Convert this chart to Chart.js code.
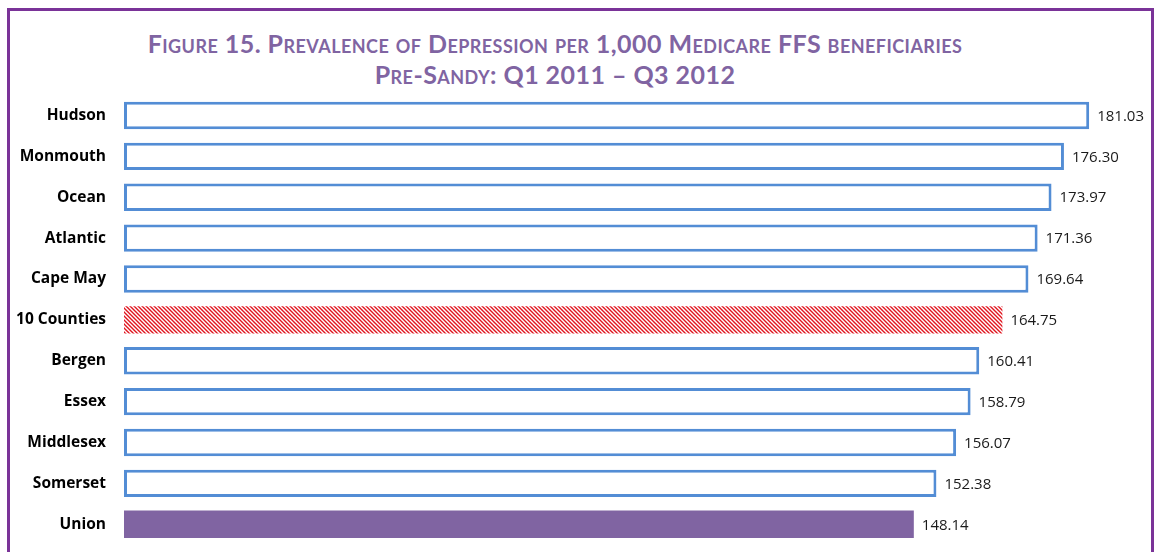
<!DOCTYPE html>
<html>
<head>
<meta charset="utf-8">
<script src="https://cdn.jsdelivr.net/npm/chart.js@4.4.1/dist/chart.umd.min.js"></script>
<style>
  html, body { margin: 0; padding: 0; background: #ffffff; }
  body { width: 1154px; height: 552px; position: relative; overflow: hidden; }
  #frame { position: absolute; left: 7px; top: 8px; width: 1141px; height: 600px;
           border: 3px solid #7a3398; box-sizing: content-box; }
  #title { position: absolute; left: 0; width: 1110px; top: 28px; text-align: center;
           font-family: Lato, "Open Sans", sans-serif; font-weight: 700; font-size: 25px;
           letter-spacing: 0.45px; line-height: 31px; color: #8064a2; font-variant: small-caps; }
  #wrap { position: absolute; left: 0; top: 0; width: 1154px; height: 572px; }
  canvas { display: block; }
</style>
</head>
<body>
<div id="frame"></div>
<div id="title">Figure 15. Prevalence of Depression per 1,000 Medicare FFS beneficiaries<br>Pre-Sandy: Q1 2011 – Q3 2012</div>
<div id="wrap"><canvas id="c" width="1154" height="572" style="width:1154px;height:572px"></canvas></div>
<script>
const categories = ["Hudson", "Monmouth", "Ocean", "Atlantic", "Cape May", "10 Counties", "Bergen", "Essex", "Middlesex", "Somerset", "Union"];
const values = [181.03, 176.30, 173.97, 171.36, 169.64, 164.75, 160.41, 158.79, 156.07, 152.38, 148.14];
const highlightAll = "10 Counties";
const highlightHome = "Union";

function makeHatch() {
  const s = 4;
  const p = document.createElement('canvas');
  p.width = s; p.height = s;
  const g = p.getContext('2d');
  g.fillStyle = '#ffffff';
  g.fillRect(0, 0, s, s);
  g.strokeStyle = '#e0141e';
  g.lineWidth = 1.4;
  g.beginPath();
  g.moveTo(0, 0); g.lineTo(s, s);
  g.moveTo(-s, 0); g.lineTo(s, 2 * s);
  g.moveTo(0, -s); g.lineTo(2 * s, s);
  g.stroke();
  return document.getElementById('c').getContext('2d').createPattern(p, 'repeat');
}
const hatch = makeHatch();

const fills = categories.map(c => c === highlightAll ? hatch : (c === highlightHome ? '#8064a2' : '#ffffff'));
const borders = categories.map(c => (c === highlightAll || c === highlightHome) ? 'rgba(0,0,0,0)' : '#538dd5');
const bws = categories.map(c => (c === highlightAll || c === highlightHome) ? 0 : 3);

const valueLabels = {
  id: 'valueLabels',
  afterDatasetsDraw(chart) {
    const ctx = chart.ctx;
    const meta = chart.getDatasetMeta(0);
    ctx.save();
    ctx.font = '15px "Open Sans", sans-serif';
    ctx.fillStyle = '#1a1a1a';
    ctx.textBaseline = 'middle';
    ctx.textAlign = 'left';
    meta.data.forEach((bar, i) => {
      ctx.fillText(values[i].toFixed(2), bar.x + 8, bar.y + 1);
    });
    ctx.restore();
  }
};

new Chart(document.getElementById('c'), {
  type: 'bar',
  data: {
    labels: categories,
    datasets: [{
      data: values,
      backgroundColor: fills,
      borderColor: borders,
      borderWidth: bws,
      borderSkipped: false,
      categoryPercentage: 1,
      barPercentage: 0.67
    }]
  },
  options: {
    indexAxis: 'y',
    responsive: false,
    animation: false,
    devicePixelRatio: 1,
    layout: { padding: { left: 0, right: 17, top: 95, bottom: 8 } },
    plugins: { legend: { display: false }, tooltip: { enabled: false }, title: { display: false } },
    scales: {
      x: { display: false, min: 0, max: 190 },
      y: {
        grid: { display: false, drawTicks: false },
        border: { display: false },
        afterFit(scale) { scale.width = 124; },
        ticks: {
          padding: 18,
          color: '#000000',
          font: { family: '"Open Sans", sans-serif', weight: 'bold', size: 15.5 }
        }
      }
    }
  },
  plugins: [valueLabels]
});
</script>
</body>
</html>
